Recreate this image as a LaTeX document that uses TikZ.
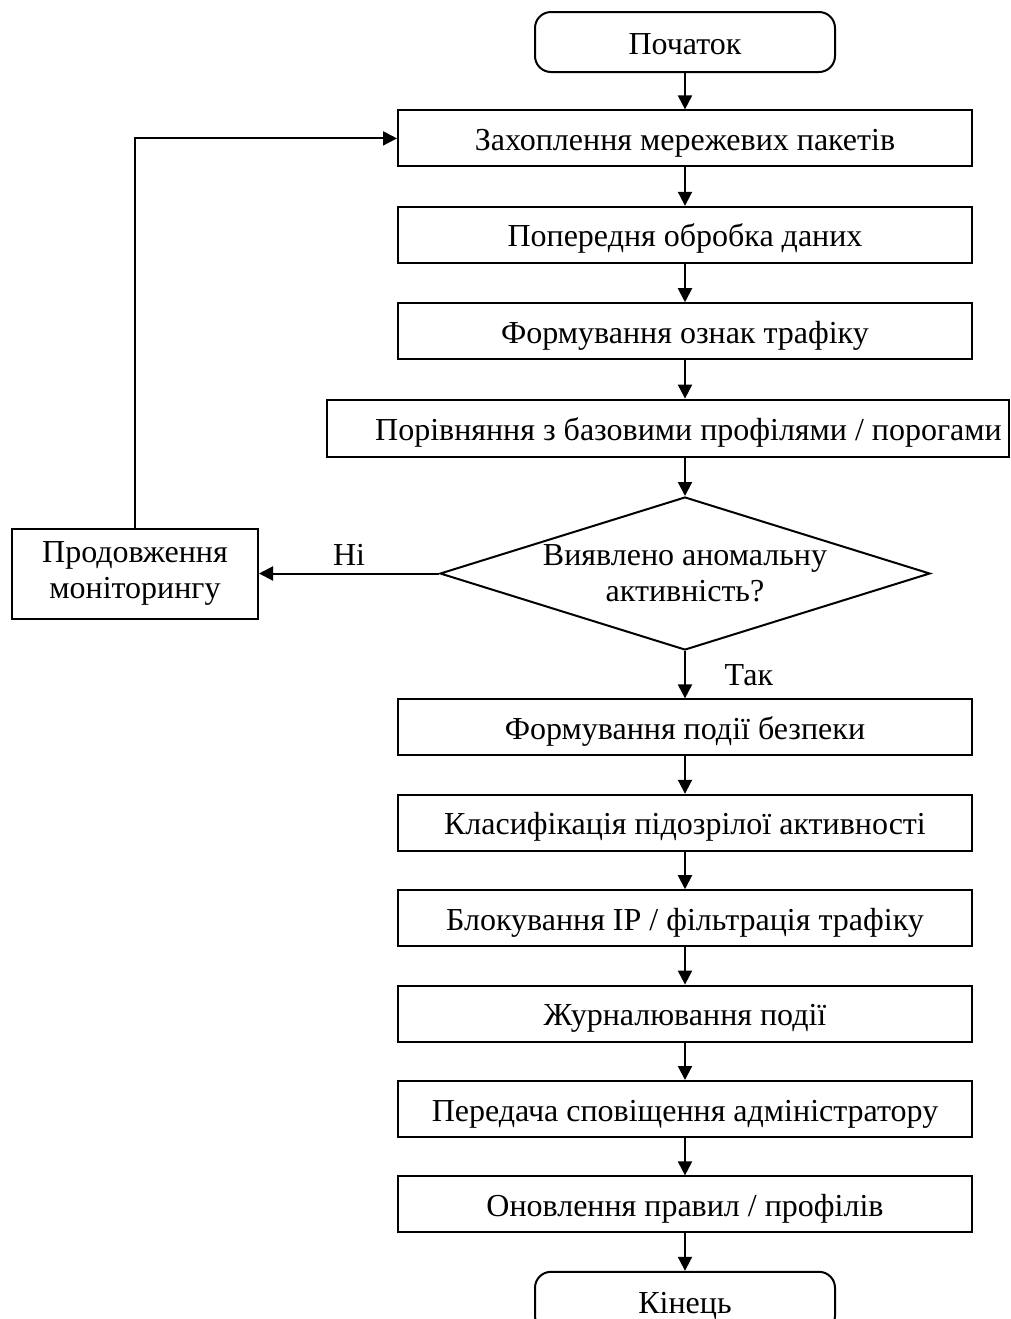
\documentclass[tikz,border=0pt]{standalone}
\usepackage{fontspec}
\setmainfont{Liberation Serif}
\usetikzlibrary{arrows.meta, positioning, shapes.geometric}
\begin{document}
\begin{tikzpicture}[node distance=18.7pt]
  \tikzset{
    blk/.style={rectangle, draw=black, line width=1pt, inner sep=2pt,
                align=center, font=\fontsize{16pt}{18pt}\selectfont},
    pbox/.style={blk, minimum width=287pt, minimum height=28pt,
                 text height=14pt, text depth=2pt},
    term/.style={pbox, rounded corners=8pt, minimum width=150pt, minimum height=30pt},
    dec/.style={diamond, draw=black, line width=1pt, aspect=3.2, inner sep=-2pt,
                minimum width=245pt, minimum height=76.5pt,
                align=center, font=\fontsize{16pt}{18pt}\selectfont},
    lbl/.style={font=\fontsize{16pt}{18pt}\selectfont},
    arr/.style={-{Triangle[length=7pt,width=7pt]}, line width=1pt}
  }
  \useasboundingbox (0,0) rectangle (505.5pt,-659.5pt);
  \coordinate (lcol) at (67.5pt,0);
  \node[term] (start) at (342.5pt,-21pt) {Початок};
  \node[pbox, below=18.2pt of start] (capt) {Захоплення мережевих пакетів};
  \node[pbox, below=19.2pt of capt]  (prep) {Попередня обробка даних};
  \node[pbox, below=19.2pt of prep]  (feat) {Формування ознак трафіку};
  \node[pbox, below=19.2pt of feat, xshift=-8.5pt, minimum width=341pt,
        minimum height=28.5pt]
        (comp) {\hspace*{20.5pt}Порівняння з базовими профілями / порогами};
  \node[dec, below=19.2pt of comp, xshift=8.5pt] (anom) {Виявлено аномальну\\активність?};
  \node[blk, minimum width=123pt, minimum height=45pt] (cont) at (lcol |- anom)
        {Продовження\\моніторингу};
  \node[pbox, below=23.7pt of anom] (evnt) {Формування події безпеки};
  \node[pbox, below=of evnt] (clss) {Класифікація підозрілої активності};
  \node[pbox, below=of clss] (blck) {Блокування IP / фільтрація трафіку};
  \node[pbox, below=of blck] (logg) {Журналювання події};
  \node[pbox, below=of logg] (ntfy) {Передача сповіщення адміністратору};
  \node[pbox, below=of ntfy] (upd)  {Оновлення правил / профілів};
  \node[term, below=18.7pt of upd]  (fin)  {Кінець};
  \foreach \a/\b in {start/capt,capt/prep,prep/feat,evnt/clss,
                     clss/blck,blck/logg,logg/ntfy,ntfy/upd,upd/fin}
    \draw[arr] (\a) -- (\b);
  \draw[arr] (feat.south) -- (feat.south |- comp.north);
  \draw[arr] (anom.north |- comp.south) -- (anom.north);
  \draw[arr] (anom) -- node[lbl, above] {Ні} (cont);
  \draw[arr] (anom) -- node[lbl, right, xshift=16pt] {Так} (evnt);
  \draw[arr] (cont) |- (capt);
\end{tikzpicture}
\end{document}
